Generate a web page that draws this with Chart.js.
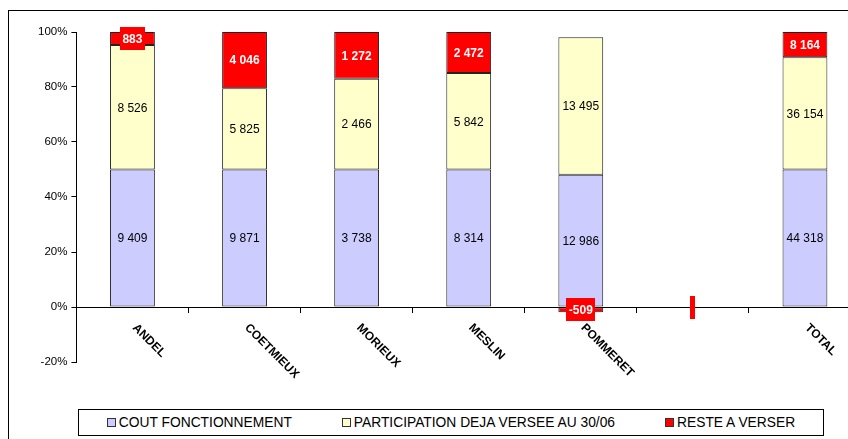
<!DOCTYPE html>
<html>
<head>
<meta charset="utf-8">
<script src="https://cdn.jsdelivr.net/npm/chart.js@4.4.0/dist/chart.umd.min.js"></script>
<style>
  html, body { margin: 0; padding: 0; background: #fff; width: 848px; height: 439px; overflow: hidden; }
  #frame { position: absolute; left: 8px; top: 10px; width: 1000px; height: 1000px; border: 1px solid #000; box-sizing: border-box; }
  #wrap { position: absolute; left: 0; top: 0; }
  #legend {
    position: absolute; left: 78px; top: 409px; width: 746px; height: 27px;
    border: 1px solid #000; box-sizing: border-box; background: #fff;
    display: flex; align-items: center; justify-content: center; gap: 50px;
    font-family: "Liberation Sans", Arial, sans-serif; font-size: 13.8px; color: #000;
  }
  #legend .item { display: flex; align-items: center; }
  #legend .box { width: 7px; height: 7px; border: 1px solid #333; margin-right: 3px; }
</style>
</head>
<body>
<div id="frame"></div>
<div id="wrap"><canvas id="chart" width="901" height="439"></canvas></div>
<div id="legend"></div>
<script>
// categories and raw values
const categories = ["ANDEL", "COETMIEUX", "MORIEUX", "MESLIN", "POMMERET", "", "TOTAL"];
const coutFonctionnement = [9409, 9871, 3738, 8314, 12986, 0, 44318];
const participation = [8526, 5825, 2466, 5842, 13495, 0, 36154];
const resteAVerser = [883, 4046, 1272, 2472, -509, 0, 8164];
const seriesNames = ["COUT FONCTIONNEMENT", "PARTICIPATION DEJA VERSEE AU 30/06", "RESTE A VERSER"];
const yTicks = [-0.2, 0, 0.2, 0.4, 0.6, 0.8, 1.0];

const colors = ["#ccccff", "#ffffcc", "#ff0000"];
const FONT = '"Liberation Sans", Arial, sans-serif';

// 100% stacked: share of the sum of absolute values, like Excel
const totals = categories.map((c, i) =>
  Math.abs(coutFonctionnement[i]) + Math.abs(participation[i]) + Math.abs(resteAVerser[i]));
const toPct = arr => arr.map((v, i) => totals[i] ? v / totals[i] : 0);

// "# ##0;-# ##0;" -> zero shows nothing
function fmt(v) {
  if (v === 0) return "";
  const s = String(Math.abs(v)).replace(/\B(?=(\d{3})+(?!\d))/g, " ");
  return (v < 0 ? "-" : "") + s;
}

const valueLabels = {
  id: "valueLabels",
  afterDatasetsDraw(chart) {
    const ctx = chart.ctx;
    ctx.save();
    ctx.textAlign = "center";
    ctx.textBaseline = "middle";
    chart.data.datasets.forEach((ds, di) => {
      const meta = chart.getDatasetMeta(di);
      meta.data.forEach((bar, i) => {
        const raw = ds.rawValues[i];
        const text = fmt(raw);
        const cy = (bar.y + bar.base) / 2;
        if (ds.boxed) {
          ctx.font = "bold 12px " + FONT;
          const w = ctx.measureText(text).width + 5;
          const h = 23;
          ctx.fillStyle = "#ff0000";
          ctx.fillRect(Math.round(bar.x - w / 2), Math.round(cy - h / 2), Math.round(w), h);
          ctx.fillStyle = "#ffffff";
        } else {
          if (!text) return;
          ctx.font = "12px " + FONT;
          ctx.fillStyle = "#000000";
        }
        ctx.fillText(text, bar.x, cy + 1);
      });
    });
    ctx.restore();
  }
};

const categoryLabels = {
  id: "categoryLabels",
  afterDraw(chart) {
    const ctx = chart.ctx;
    const xs = chart.scales.x, ys = chart.scales.y;
    const y0 = ys.getPixelForValue(0);
    ctx.save();
    ctx.font = "bold 12px " + FONT;
    ctx.fillStyle = "#000";
    ctx.textAlign = "left";
    ctx.textBaseline = "middle";
    categories.forEach((c, i) => {
      ctx.save();
      ctx.translate(xs.getPixelForValue(i) + 2, y0 + 19);
      ctx.rotate(Math.PI / 4);
      ctx.fillText(c, 0, 0);
      ctx.restore();
    });
    ctx.restore();
  }
};

const series = [coutFonctionnement, participation, resteAVerser];

new Chart(document.getElementById("chart"), {
  type: "bar",
  data: {
    labels: categories,
    datasets: series.map((vals, k) => ({
      label: seriesNames[k],
      data: toPct(vals),
      rawValues: vals,
      boxed: k === 2,
      backgroundColor: colors[k],
      borderColor: "#222",
      borderWidth: 1,
      borderSkipped: false,
      barPercentage: 0.4,
      categoryPercentage: 1.0
    }))
  },
  options: {
    responsive: false,
    animation: false,
    layout: { padding: { left: 34, right: 40, top: 32, bottom: 77 } },
    plugins: { legend: { display: false }, tooltip: { enabled: false } },
    scales: {
      x: {
        stacked: true,
        position: { y: 0 },
        offset: true,
        grid: { display: true, drawOnChartArea: false, offset: true, tickLength: 5, color: "#000" },
        border: { display: true, color: "#000", width: 1 },
        ticks: { display: false }
      },
      y: {
        stacked: true,
        min: yTicks[0],
        max: yTicks[yTicks.length - 1],
        afterBuildTicks: axis => { axis.ticks = yTicks.map(v => ({ value: v })); },
        grid: { display: true, drawOnChartArea: false, tickLength: 5, color: "#000" },
        border: { display: true, color: "#000", width: 1 },
        ticks: {
          padding: 4,
          color: "#000",
          font: { family: FONT, size: 11.5 },
          callback: v => Math.round(v * 100) + "%"
        }
      }
    }
  },
  plugins: [valueLabels, categoryLabels]
});

const legend = document.getElementById("legend");
seriesNames.forEach((name, k) => {
  const item = document.createElement("div");
  item.className = "item";
  const box = document.createElement("span");
  box.className = "box";
  box.style.background = colors[k];
  item.appendChild(box);
  item.appendChild(document.createTextNode(name));
  legend.appendChild(item);
});
</script>
</body>
</html>
